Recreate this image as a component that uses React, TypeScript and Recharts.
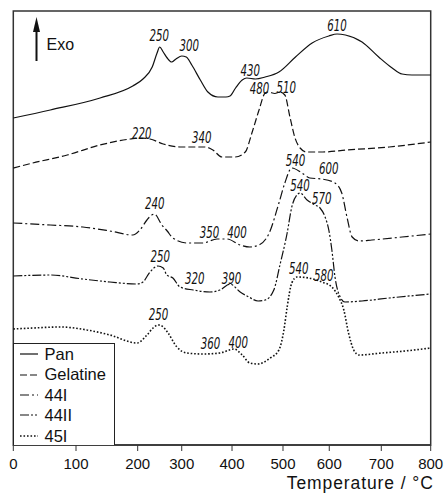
import {
  Label,
  Legend,
  Line,
  LineChart,
  ReferenceArea,
  ReferenceDot,
  ReferenceLine,
  XAxis,
  YAxis,
} from 'recharts';

const FONT = '"Liberation Sans", Arial, Helvetica, sans-serif';
const NUM_FONT = '"Liberation Sans Narrow", "DejaVu Sans Condensed", "Liberation Sans", sans-serif';
const INK = '#111';

const TICKS = [0, 100, 200, 300, 400, 500, 600, 700, 800];
// the printed axis is unevenly spaced: where each tick really sits, on a 0..800 run across the frame
const TICK_SPOT = [0, 120.2, 238.4, 322.8, 419.2, 516.9, 605.6, 705.3, 800];

// temperature (°C) / DTA signal (arbitrary, curves offset)
const PAN_T = [0, 59, 139, 192, 212, 233, 244, 250, 258, 267, 277, 287, 300, 309, 320, 337, 352, 372, 388, 396, 407, 420, 429, 446, 465, 492, 527, 563, 599, 615, 631, 663, 695, 722, 742, 762, 800];
const PAN_S = [327, 335, 347, 359, 366, 378, 392, 398, 393, 387, 383, 386, 389, 388, 380, 365, 353, 348, 348, 349, 357, 365, 367, 366, 368, 373, 388, 402, 409, 411, 410, 403, 388, 377, 371, 370, 370];

const GEL_T = [0, 31, 86, 139, 188, 205, 228, 258, 296, 323, 346, 362, 380, 406, 426, 439, 453, 465, 471, 484, 494, 504, 515, 526, 537, 551, 586, 634, 716, 800];
const GEL_S = [277, 282, 290, 300, 306, 307, 306, 301, 298, 298, 298, 295, 288, 288, 293, 312, 335, 352, 353, 351.5, 353, 350, 328, 307, 297, 293, 293, 295, 298, 303];

const S44I_T = [0, 59, 111, 155, 192, 205, 221, 232, 238, 255, 267, 280, 310, 342, 370, 390, 416, 435, 453, 473, 492, 504, 519, 541, 558, 584, 611, 624, 634, 644, 657, 682, 742, 800];
const S44I_S = [222, 220, 218, 214, 210, 215, 225, 230, 231, 220, 214, 207, 202, 202, 206, 206, 200, 198, 200, 212, 242, 262, 277, 272, 267, 266, 262, 252, 228, 208, 204, 205, 208, 211];

const S44II_T = [0, 59, 111, 155, 199, 212, 228, 246, 258, 266, 280, 296, 323, 356, 376, 396, 416, 433, 451, 465, 482, 494, 509, 519, 530, 537, 552, 569, 580, 591, 599, 605, 611, 621, 630, 663, 716, 800];
const S44II_S = [169, 170, 166, 163, 161, 163, 173, 179, 177, 170, 167, 158, 155, 153, 155, 161, 153, 148, 144, 145, 155, 180, 212, 238, 250, 252, 245, 240, 237, 228, 215, 195, 168, 148, 143, 144, 147, 151];

const S45I_T = [0, 31, 75, 118, 155, 199, 221, 235, 247, 258, 269, 289, 310, 342, 376, 404, 420, 435, 451, 475, 492, 502, 509, 519, 530, 556, 584, 605, 618, 628, 637, 647, 657, 701, 748, 800];
const S45I_S = [116, 117, 118, 115, 110, 102, 110, 117, 120, 118, 112, 98, 92, 91, 92, 96, 90, 82, 81, 87, 95, 115, 138, 162, 168, 167, 163, 158, 148, 135, 112, 95, 90, 92, 94, 97];

// peak temperatures written next to the curves
const NOTE_TEXT = ['250', '300', '430', '610', '220', '340', '480', '510', '240', '350', '400', '540', '600', '250', '320', '390', '540', '570', '250', '360', '400', '540', '580'];
const NOTE_T = [249, 315, 436, 615, 209, 340, 454, 507, 239, 355, 410, 527, 599, 251, 326, 399, 537, 584, 247, 357, 412, 534, 588];
const NOTE_S = [410, 400, 375, 420, 312, 308, 357, 358, 242, 213, 213, 285, 277, 189, 167, 167, 260, 247, 131, 102, 103, 177, 170];

function warp(t: number) {
  for (let i = 1; i < TICKS.length; i++) {
    if (t <= TICKS[i]) {
      const f = (t - TICKS[i - 1]) / (TICKS[i] - TICKS[i - 1]);
      return TICK_SPOT[i - 1] + f * (TICK_SPOT[i] - TICK_SPOT[i - 1]);
    }
  }
  return TICK_SPOT[TICK_SPOT.length - 1];
}

const rows = (t: number[], s: number[]) => t.map((x, i) => ({ u: warp(x), v: s[i] }));

const SERIES = [
  { name: 'Pan', data: rows(PAN_T, PAN_S), dash: undefined, width: 1.2 },
  { name: 'Gelatine', data: rows(GEL_T, GEL_S), dash: '7 3', width: 1.2 },
  { name: '44I', data: rows(S44I_T, S44I_S), dash: '9 3 2 3', width: 1.2 },
  { name: '44II', data: rows(S44II_T, S44II_S), dash: '9 2 2 2 2 2', width: 1.2 },
  { name: '45I', data: rows(S45I_T, S45I_S), dash: '1.6 1.9', width: 1.6 },
];

function LegendBox() {
  return (
    <div
      style={{
        boxSizing: 'border-box',
        width: '100%',
        height: '100%',
        border: '1.5px solid #222',
        borderBottom: 'none',
        background: '#fff',
        paddingLeft: 5,
        fontFamily: FONT,
        fontSize: 16.5,
        color: INK,
      }}
    >
      {SERIES.map((s) => (
        <div key={s.name} style={{ display: 'flex', alignItems: 'center', height: 20.4 }}>
          <svg width={20} height={10}>
            <line x1={1} x2={19} y1={5} y2={5} stroke={INK} strokeWidth={s.width} strokeDasharray={s.dash} />
          </svg>
          <span style={{ marginLeft: 6, lineHeight: 1 }}>{s.name}</span>
        </div>
      ))}
    </div>
  );
}

function AxisTitle(props: any) {
  const { x, y, width } = props.viewBox;
  return (
    <text x={x + width + 3} y={y + 44} textAnchor="end" fontFamily={FONT} fontSize={17.5} letterSpacing={0.9} fill={INK}>
      Temperature / °C
    </text>
  );
}

function ExoArrow(p: any) {
  const top = Math.min(p.y1, p.y2);
  const bottom = Math.max(p.y1, p.y2);
  const x = p.x1;
  return (
    <g>
      <line x1={x} x2={x} y1={top + 10} y2={bottom} stroke={INK} strokeWidth={2} />
      <polygon points={`${x},${top} ${x - 3.5},${top + 15} ${x + 3.5},${top + 15}`} fill={INK} />
    </g>
  );
}

export default function App() {
  return (
    <div style={{ position: 'absolute', left: 0, top: 0, background: '#fff' }}>
      <LineChart width={444} height={497} margin={{ top: 11, right: 13.3, left: 13.3, bottom: 0 }}>
        <XAxis
          type="number"
          dataKey="u"
          domain={[0, 800]}
          ticks={TICK_SPOT}
          interval={0}
          tickFormatter={(v: number) => String(TICKS[TICK_SPOT.indexOf(v)])}
          height={52}
          tickSize={6}
          tickMargin={7}
          tick={{ fill: INK, fontSize: 15, fontFamily: FONT }}
          tickLine={{ stroke: '#333' }}
          axisLine={{ stroke: '#333', strokeWidth: 1.5 }}
        >
          <Label content={AxisTitle} />
        </XAxis>
        <YAxis type="number" domain={[0, 434]} hide allowDataOverflow />
        <ReferenceArea x1={0} x2={800} y1={0} y2={434} fill="none" stroke="#333" strokeWidth={1.5} ifOverflow="visible" />
        {SERIES.map((s) => (
          <Line
            key={s.name}
            name={s.name}
            data={s.data}
            dataKey="v"
            type="monotone"
            stroke={INK}
            strokeWidth={s.width}
            strokeDasharray={s.dash}
            dot={false}
            activeDot={false}
            isAnimationActive={false}
          />
        ))}
        <ReferenceLine
          segment={[
            { x: warp(37), y: 384 },
            { x: warp(37), y: 428 },
          ]}
          shape={ExoArrow}
        />
        <ReferenceDot
          x={warp(53)}
          y={400.7}
          r={0}
          shape={(p: any) => (
            <text x={p.cx} y={p.cy} dominantBaseline="central" fontFamily={FONT} fontSize={16} fill={INK}>
              Exo
            </text>
          )}
        />
        {NOTE_TEXT.map((txt, i) => (
          <ReferenceDot
            key={i}
            x={warp(NOTE_T[i])}
            y={NOTE_S[i]}
            r={0}
            shape={(p: any) => (
              <text
                x={p.cx}
                y={p.cy}
                textAnchor="middle"
                dominantBaseline="central"
                fontFamily={NUM_FONT}
                fontStyle="italic"
                fontSize={16.5}
                textLength={19.5}
                lengthAdjust="spacingAndGlyphs"
                fill={INK}
              >
                {txt}
              </text>
            )}
          />
        ))}
        <Legend
          layout="vertical"
          align="center"
          verticalAlign="middle"
          content={LegendBox}
          wrapperStyle={{ left: 12.5, top: 343, width: 102.5, height: 102, margin: 0 }}
        />
      </LineChart>
    </div>
  );
}
